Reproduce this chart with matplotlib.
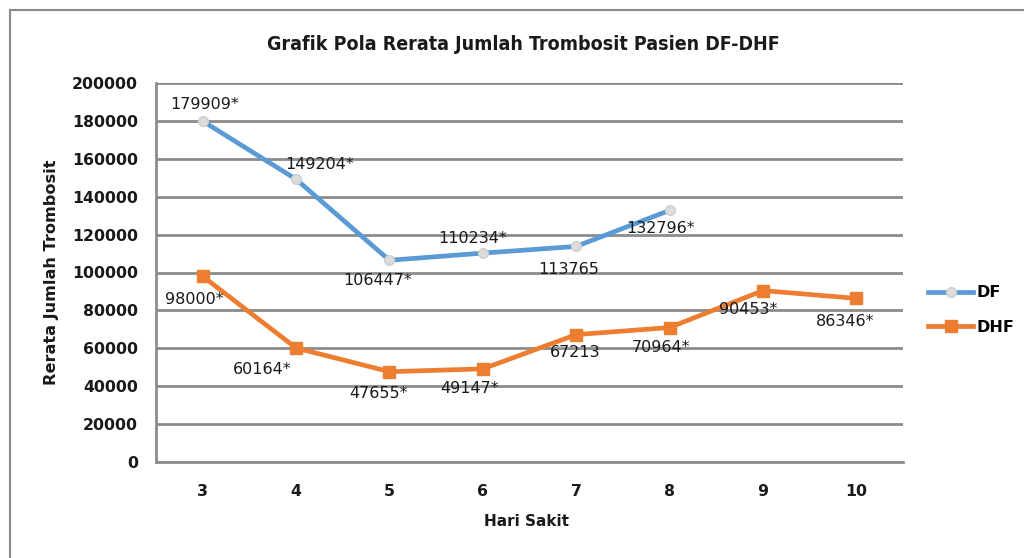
import matplotlib
matplotlib.use("Agg")
import matplotlib.pyplot as plt
from matplotlib.patches import Rectangle

days = [3, 4, 5, 6, 7, 8, 9, 10]
df_days = [3, 4, 5, 6, 7, 8]
df_values = [179909, 149204, 106447, 110234, 113765, 132796]
df_labels = ["179909*", "149204*", "106447*", "110234*", "113765", "132796*"]
dhf_values = [98000, 60164, 47655, 49147, 67213, 70964, 90453, 86346]
dhf_labels = ["98000*", "60164*", "47655*", "49147*", "67213", "70964*", "90453*", "86346*"]
y_ticks = [0, 20000, 40000, 60000, 80000, 100000, 120000, 140000, 160000, 180000, 200000]

plt.rcParams['font.family'] = ['DejaVu Sans']

fig = plt.figure(figsize=(10.24, 5.58), dpi=100)
ax = fig.add_axes([156/1024, 1-462/558, (903-156)/1024, (462-83)/558])

# figure border
fig.add_artist(Rectangle((10/1024, -0.1), 1.2, 1-10/558+0.1, transform=fig.transFigure,
                         fill=False, edgecolor='#8a8a8a', linewidth=1.5))

pos = {d: i for i, d in enumerate(days)}
xdf = [pos[d] for d in df_days]
xdhf = [pos[d] for d in days]

ax.plot(xdf, df_values, color='#5B9BD5', lw=3.4, marker='o', ms=7,
        mfc='#dcdcdc', mec='#cfcfcf', label='DF', zorder=3)
ax.plot(xdhf, dhf_values, color='#ED7D31', lw=3.4, marker='s', ms=9,
        mfc='#ED7D31', mec='#ED7D31', label='DHF', zorder=3)

df_off = [(2, 17), (24, 15), (-12, -20), (-10, 15), (-7, -23), (-9, -18)]
dhf_off = [(-8, -23), (-34, -22), (-11, -22), (-13, -20), (-1, -18), (-9, -20), (-15, -19), (-11, -23)]
for x, v, lab, o in zip(xdf, df_values, df_labels, df_off):
    ax.annotate(lab, (x, v), xytext=o, textcoords='offset pixels', ha='center', va='center',
                fontsize=11.5, color='#1a1a1a', zorder=4)
for x, v, lab, o in zip(xdhf, dhf_values, dhf_labels, dhf_off):
    ax.annotate(lab, (x, v), xytext=o, textcoords='offset pixels', ha='center', va='center',
                fontsize=11.5, color='#1a1a1a', zorder=4)

ax.set_xlim(-0.5, len(days) - 0.5)
ax.set_ylim(0, 200000)
ax.set_xticks(range(len(days)))
ax.set_xticklabels([str(d) for d in days])
ax.set_yticks(y_ticks)
ax.set_yticklabels([str(t) for t in y_ticks])
ax.tick_params(axis='both', length=0, labelsize=11.3, colors='#1a1a1a')
ax.tick_params(axis='x', pad=16)
ax.tick_params(axis='y', pad=13)
for lab in ax.get_xticklabels() + ax.get_yticklabels():
    lab.set_fontweight('bold')

ax.yaxis.grid(True, color='#8c8c8c', lw=2)
ax.set_axisbelow(True)
for s in ['top', 'right']:
    ax.spines[s].set_visible(False)
for s in ['left', 'bottom']:
    ax.spines[s].set_color('#8c8c8c')
    ax.spines[s].set_linewidth(2)

fig.text(523/1024, 1-44/558, 'Grafik Pola Rerata Jumlah Trombosit Pasien DF-DHF',
         ha='center', va='center', fontsize=14, fontweight='bold', fontstretch='condensed',
         color='#1a1a1a')
fig.text(52/1024, 1-272/558, 'Rerata Jumlah Trombosit', rotation=90, ha='center', va='center',
         fontsize=11.6, fontweight='bold', color='#1a1a1a')
fig.text(527/1024, 1-522/558, 'Hari Sakit', ha='center', va='center',
         fontsize=11, fontweight='bold', color='#1a1a1a')

leg = fig.legend(loc='center left', bbox_to_anchor=(914/1024, 1-310/558), frameon=False,
                 prop={'size': 11.5, 'weight': 'bold'}, handlelength=2.8, handletextpad=0.2,
                 labelspacing=1.2)

fig.savefig('out.png', dpi=100)
